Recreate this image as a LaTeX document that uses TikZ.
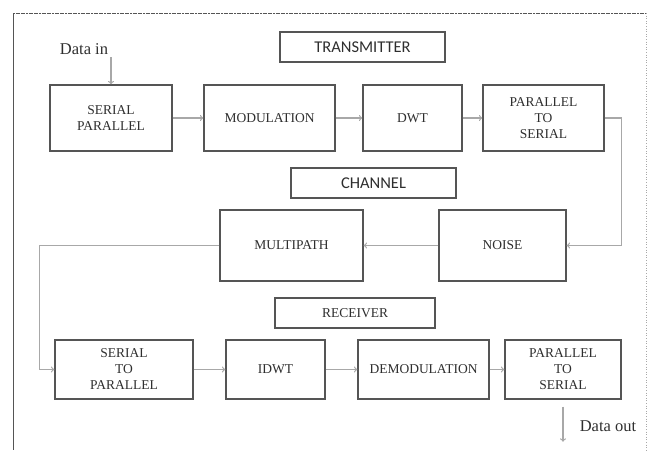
\documentclass[tikz,border=0pt]{standalone}
\usepackage{fontspec}
\setmainfont{Liberation Serif}
\newfontfamily\headfont{Carlito}

\definecolor{boxgray}{HTML}{555555}
\definecolor{textgray}{HTML}{2E2E2E}
\definecolor{linegray}{HTML}{A8A8A8}
\definecolor{framegray}{HTML}{555555}

\tikzset{
	block/.style = {draw = boxgray, line width = 1.4pt, text = textgray, align = center,
		inner sep = 0pt, font = \fontsize{13.5}{16}\selectfont},
	title/.style = {block, font = \headfont\fontsize{16.5}{19}\selectfont},
	flow/.style  = {draw = linegray, line width = 1.2pt, ->},
	tag/.style   = {text = textgray, font = \fontsize{16.5}{19}\selectfont}
}

\begin{document}
\begin{tikzpicture}[x = 1pt, y = -1pt, > = to]

	\useasboundingbox (0, 0) rectangle (648, 450);

	% Page frame

	\draw [framegray, line width = 1pt, dash pattern = on 2pt off 0.6pt] (13, 13) -- (646, 13);
	\draw [framegray, line width = 1pt] (13, 13) -- (13, 450);
	\draw [linegray, line width = 0.6pt, dotted] (646, 13) -- (646, 450);

	% Transmitter

	\node [title, minimum width = 165pt, minimum height = 30pt] (tx) at (362.5, 47) {TRANSMITTER};

	\node [block, minimum width = 122pt, minimum height = 66pt] (sp)    at (111, 118)   {SERIAL\\PARALLEL};
	\node [block, minimum width = 131pt, minimum height = 66pt] (mod)   at (269.5, 118) {MODULATION};
	\node [block, minimum width = 99pt,  minimum height = 66pt] (dwt)   at (412.5, 118) {DWT};
	\node [block, minimum width = 121pt, minimum height = 66pt] (pts)   at (543.5, 118) {PARALLEL\\TO\\SERIAL};

	% Channel

	\node [title, minimum width = 165pt, minimum height = 30pt] (ch) at (373.5, 183) {CHANNEL};

	\node [block, minimum width = 143pt, minimum height = 71pt] (mp)    at (291.5, 245.5) {MULTIPATH};
	\node [block, minimum width = 127pt, minimum height = 71pt] (noise) at (502.5, 245.5) {NOISE};

	% Receiver

	\node [block, minimum width = 160pt, minimum height = 30pt] (rx) at (355, 313) {RECEIVER};

	\node [block, minimum width = 138pt, minimum height = 59pt] (stp)   at (124, 369.5)   {SERIAL\\TO\\PARALLEL};
	\node [block, minimum width = 99pt,  minimum height = 59pt] (idwt)  at (275.5, 369.5) {IDWT};
	\node [block, minimum width = 131pt, minimum height = 59pt] (demod) at (423.5, 369.5) {DEMODULATION};
	\node [block, minimum width = 116pt, minimum height = 59pt] (pts2)  at (563, 369.5)   {PARALLEL\\TO\\SERIAL};

	% Data in / data out

	\node [tag] (din) at (84, 49) {Data in};
	\coordinate (inpt) at (111, 57);
	\node [tag] (dout) at (608, 426) {Data out};
	\coordinate (outpt) at ([yshift = -42pt] pts2.south);

	% Connectors

	\draw [flow] (inpt) -- (sp);
	\draw [flow] (sp) -- (mod);
	\draw [flow] (mod) -- (dwt);
	\draw [flow] (dwt) -- (pts);
	\draw [flow] (pts.east) -- ++(17, 0) |- (noise.east);
	\draw [flow] (noise) -- (mp);
	\draw [flow] (mp.west) -| ([xshift = -15pt] stp.west) -- (stp.west);
	\draw [flow] (stp) -- (idwt);
	\draw [flow] (idwt) -- (demod);
	\draw [flow] (demod) -- (pts2);
	\draw [flow] ([yshift = -7pt] pts2.south) -- (outpt);

\end{tikzpicture}
\end{document}
